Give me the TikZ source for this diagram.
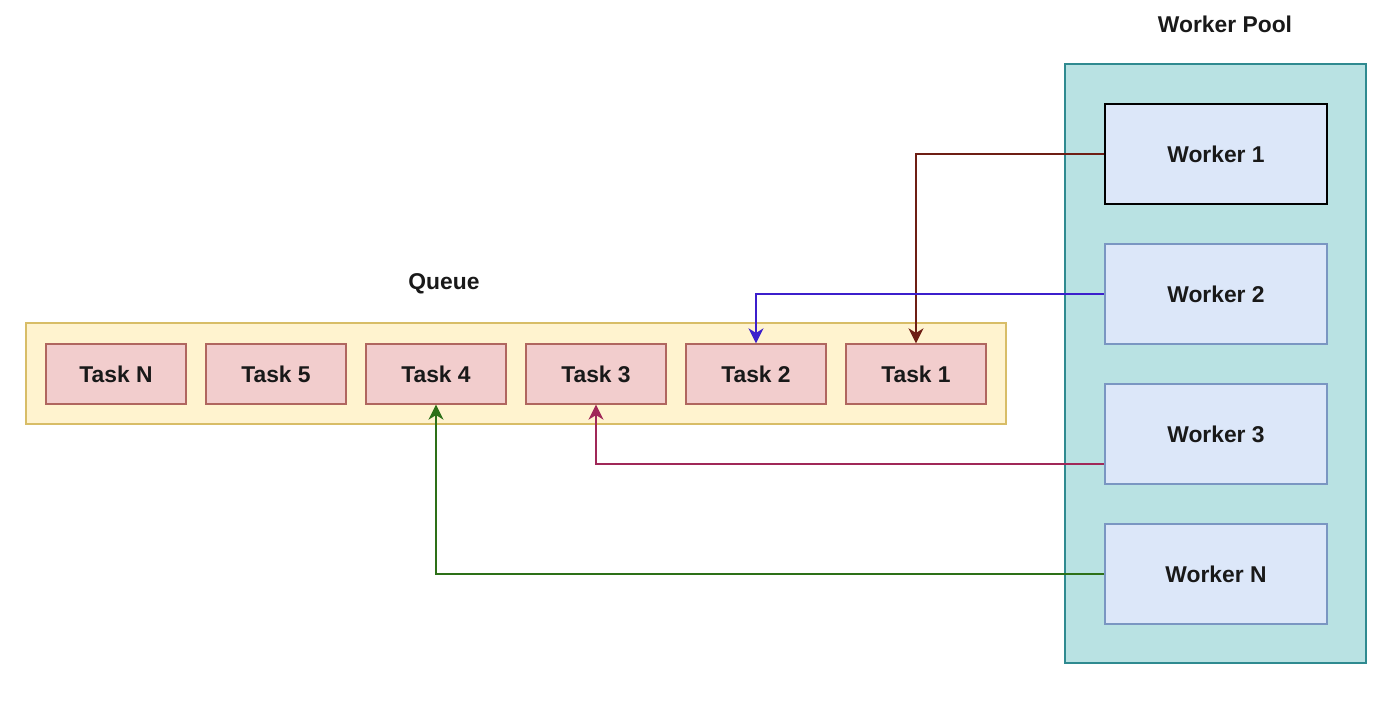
\documentclass[tikz,border=0pt]{standalone}
\usepackage{fontspec}
\setmainfont{Liberation Sans}
\usetikzlibrary{arrows.meta}
\definecolor{poolfill}{HTML}{B9E2E3}
\definecolor{poolline}{HTML}{2F8A90}
\definecolor{workfill}{HTML}{DCE7F9}
\definecolor{workline}{HTML}{7A96C2}
\definecolor{queuefill}{HTML}{FFF3CF}
\definecolor{queueline}{HTML}{D8BD67}
\definecolor{taskfill}{HTML}{F2CDCD}
\definecolor{taskline}{HTML}{B0665F}
\definecolor{linkA}{HTML}{6E1E14}
\definecolor{linkB}{HTML}{3C1FCC}
\definecolor{linkC}{HTML}{A02858}
\definecolor{linkD}{HTML}{2D7018}
\begin{document}
\begin{tikzpicture}[x=0.02cm,y=-0.02cm,
  txt/.style={font=\fontsize{13}{15}\selectfont\bfseries, text=black!90},
  pool/.style={draw=poolline, fill=poolfill, line width=0.9pt},
  queuebox/.style={draw=queueline, fill=queuefill, line width=0.8pt},
  workerbox/.style={draw=workline, fill=workfill, line width=0.9pt,
    minimum width=222*0.02cm, minimum height=100*0.02cm, inner sep=0pt, txt},
  taskbox/.style={draw=taskline, fill=taskfill, line width=0.8pt,
    minimum width=140*0.02cm, minimum height=60*0.02cm, inner sep=0pt, txt},
  link/.style={line width=1.2pt, line join=miter,
    -{Stealth[length=8.5pt,width=8.5pt,inset=2.6pt]}}]
\useasboundingbox (0,0) rectangle (1382,702);
\fill[white] (0,0) rectangle (1382,702);

% containers
\draw[pool] (1065,64) rectangle (1366,663);
\node[txt] (poollabel) at (1225,24) {Worker Pool};
\draw[queuebox] (26,323) rectangle (1006,424);
\node[txt] (queuelabel) at (444,284) {Queue};

% workers
\node[workerbox, draw=black, line width=1.4pt] (w1) at (1216,154) {Worker 1};
\node[workerbox] (w2) at (1216,294) {Worker 2};
\node[workerbox] (w3) at (1216,434) {Worker 3};
\node[workerbox] (wn) at (1216,574) {Worker N};

% tasks
\node[taskbox] (tn) at (116,374) {Task N};
\node[taskbox] (t5) at (276,374) {Task 5};
\node[taskbox] (t4) at (436,374) {Task 4};
\node[taskbox] (t3) at (596,374) {Task 3};
\node[taskbox] (t2) at (756,374) {Task 2};
\node[taskbox] (t1) at (916,374) {Task 1};

% workers taking tasks
\draw[link, draw=linkA] (w1.west) -| (t1.north);
\draw[link, draw=linkB] (w2.west) -| (t2.north);
\draw[link, draw=linkC] ([yshift=-30*0.02cm]w3.west) -| (t3.south);
\draw[link, draw=linkD] (wn.west) -| (t4.south);
\end{tikzpicture}
\end{document}
